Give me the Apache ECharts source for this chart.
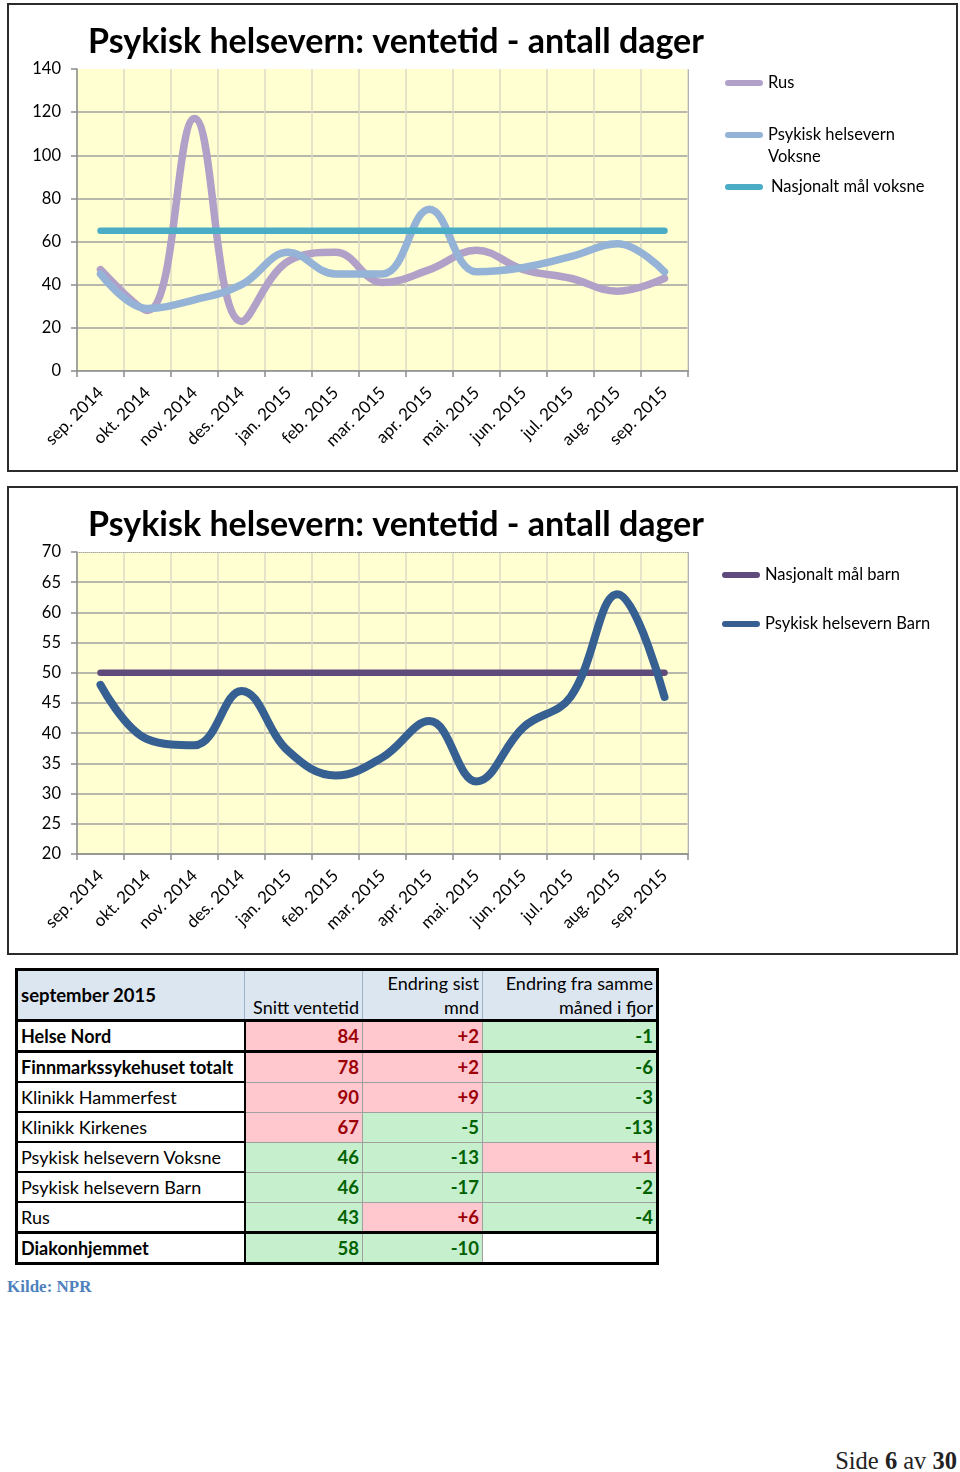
<!DOCTYPE html>
<html><head><meta charset="utf-8">
<script src="https://cdn.jsdelivr.net/npm/echarts@6/dist/echarts.min.js"></script>
<style>
body{margin:0;width:960px;height:1472px;position:relative;background:#fff;font-family:Lato,'Open Sans',sans-serif;overflow:hidden;}
.box{position:absolute;left:7px;width:947px;height:465px;border:2px solid #2b2b2b;}
.chart{position:absolute;left:0;width:960px;height:480px;}
table{position:absolute;left:15px;top:968px;border-collapse:collapse;border:3px solid #000;font-family:Lato,sans-serif;font-size:18px;color:#000;table-layout:fixed;}
td,th{padding:0 3px;border:1px solid #a0a0a0;height:28px;white-space:nowrap;overflow:hidden;}
th{background:#dce6f1;font-weight:normal;height:48px;text-align:right;vertical-align:bottom;line-height:24px;border:1px solid #9fb3c8;}
th.c1{text-align:left;vertical-align:middle;font-weight:bold;font-size:18.5px;}
tr.hdr th{border-bottom:3px solid #000;}
td.c1{text-align:left;border-right:2px solid #000;border-bottom:2px solid #000;padding-left:3px;font-size:18px;}
td.num{text-align:right;font-weight:bold;font-size:18.5px;}
td.red{background:#ffc7ce;color:#9c0006;}
td.green{background:#c6efce;color:#006100;}
td.blank{background:#fff;}
tr.thick td{border-bottom:3px solid #000;}
tr.bold td.c1{font-weight:bold;}
#kilde{position:absolute;left:7px;top:1277px;font-family:'Liberation Serif',serif;font-weight:bold;font-size:17px;color:#4f81bd;}
#side{position:absolute;right:3px;top:1447px;font-family:'Liberation Serif',serif;font-size:24.5px;color:#222;}
</style></head>
<body>
<div class="box" style="top:3px"></div>
<div class="box" style="top:486px"></div>
<div id="c1" class="chart" style="top:0"></div>
<div id="c2" class="chart" style="top:483px"></div>
<table id="tbl"></table>
<div id="kilde">Kilde: NPR</div>
<div id="side">Side <b>6</b> av <b>30</b></div>
<script>
// ---- data ----
const months = ['sep. 2014','okt. 2014','nov. 2014','des. 2014','jan. 2015','feb. 2015','mar. 2015','apr. 2015','mai. 2015','jun. 2015','jul. 2015','aug. 2015','sep. 2015'];
const rus = [47,28,117,23,51,55,41,47,56,47,43,37,43];
const voksne = [45,29,33,40,55,45,45,75,46,48,53,59,46];
const maalVoksne = [65,65,65,65,65,65,65,65,65,65,65,65,65];
const barn = [48,39,38,47,37,33,36,42,32,41,46,63,46];
const maalBarn = [50,50,50,50,50,50,50,50,50,50,50,50,50];
const titleText = 'Psykisk helsevern: ventetid - antall dager';

const tableTitle = 'september 2015';
const tableHeaders = ['Snitt ventetid','Endring sist<br>mnd','Endring fra samme<br>måned i fjor'];
const tableRows = ['Helse Nord','Finnmarkssykehuset totalt','Klinikk Hammerfest','Klinikk Kirkenes','Psykisk helsevern Voksne','Psykisk helsevern Barn','Rus','Diakonhjemmet'];
const snitt = [84,78,90,67,46,46,43,58];
const endringMnd = ['+2','+2','+9','-5','-13','-17','+6','-10'];
const endringFjor = ['-1','-6','-3','-13','+1','-2','-4',''];
const boldRows = ['Helse Nord','Finnmarkssykehuset totalt','Diakonhjemmet'];
const thickRows = ['Helse Nord','Rus'];

const FONT = 'Lato';
function baseOption(yMin, yMax, yInt){
  return {
    animation:false,
    title:{text:titleText,left:88,top:25,padding:0,textStyle:{fontFamily:FONT,fontWeight:'bold',fontSize:34,color:'#000'}},
    grid:{left:77,top:69,width:611,height:302,show:true,backgroundColor:'#ffffd2',borderWidth:0},
    xAxis:[{type:'category',data:months,boundaryGap:true,
      axisLine:{show:true,lineStyle:{color:'#8c8c8c',width:1.5}},
      axisTick:{show:true,interval:0,length:6,lineStyle:{color:'#8c8c8c',width:1.5}},
      axisLabel:{interval:0,rotate:45,margin:19,fontFamily:FONT,fontSize:17,color:'#000'},
      splitLine:{show:true,interval:0,lineStyle:{color:'#dcdac4',width:1.5}}},
      {type:'category',data:months,position:'top',axisLine:{show:true,lineStyle:{color:'#a8a8a8',type:'dotted',width:1}},axisTick:{show:false},axisLabel:{show:false},splitLine:{show:false}}],
    yAxis:[{type:'value',min:yMin,max:yMax,interval:yInt,
      axisLine:{show:true,lineStyle:{color:'#8c8c8c',width:1.5}},
      axisTick:{show:true,length:6,lineStyle:{color:'#8c8c8c',width:1.5}},
      axisLabel:{margin:16,fontFamily:FONT,fontSize:16.5,color:'#000'},
      splitLine:{show:true,showMaxLine:false,lineStyle:{color:'#a0a0a0',width:1.6}}},
      {type:'value',min:yMin,max:yMax,interval:yInt,position:'right',axisLine:{show:true,lineStyle:{color:'#a8a8a8',type:'dotted',width:1}},axisTick:{show:false},axisLabel:{show:false},splitLine:{show:false}}],
  };
}
const capsule = 'path://M3,0 L35,0 A3,3 0 0 1 35,6 L3,6 A3,3 0 0 1 3,0 Z';
function legendAt(name,left,top,fs,extra){
  return Object.assign({data:[name],left:left,top:top,icon:capsule,itemWidth:38,itemHeight:6,itemGap:0,padding:0,
    textStyle:{fontFamily:FONT,fontSize:fs,color:'#000',lineHeight:22}},extra||{});
}
function lineSeries(name,data,color,w){
  return {name:name,type:'line',data:data,smooth:0.4,symbol:'none',xAxisIndex:0,yAxisIndex:0,
    lineStyle:{color:color,width:w,cap:'round',join:'round'},itemStyle:{color:color}};
}

const c1 = echarts.init(document.getElementById('c1'),null,{renderer:'canvas'});
const o1 = baseOption(0,140,20);
o1.legend = [
  legendAt('Rus',725,72,16.5),
  legendAt('Psykisk helsevern Voksne',725,102,16.5,{formatter:()=> '\u00a0\nPsykisk helsevern\nVoksne'}),
  legendAt('Nasjonalt mål voksne',725,176,16.5,{textStyle:{fontFamily:FONT,fontSize:16.5,color:'#000',lineHeight:22,padding:[0,0,0,3]}})
];
o1.series = [
  lineSeries('Rus',rus,'#b1a0c7',7.5),
  lineSeries('Psykisk helsevern Voksne',voksne,'#95b3d7',7.5),
  lineSeries('Nasjonalt mål voksne',maalVoksne,'#4bacc6',6.5)
];
c1.setOption(o1);

const c2 = echarts.init(document.getElementById('c2'),null,{renderer:'canvas'});
const o2 = baseOption(20,70,5);
o2.legend = [
  legendAt('Nasjonalt mål barn',722,81,16.5),
  legendAt('Psykisk helsevern Barn',722,130,16.5)
];
o2.series = [
  lineSeries('Nasjonalt mål barn',maalBarn,'#604a7b',6.5),
  lineSeries('Psykisk helsevern Barn',barn,'#376092',8)
];
c2.setOption(o2);

// ---- table ----
const widths=[228,118,120,175];
let html='<colgroup>'+widths.map(w=>'<col style="width:'+w+'px">').join('')+'</colgroup>';
html+='<tr class="hdr"><th class="c1">'+tableTitle+'</th>'+tableHeaders.map(h=>'<th>'+h+'</th>').join('')+'</tr>';
function cls(v,isSnitt){
  if(v===''||v===undefined) return 'blank';
  if(isSnitt) return v>65?'red':'green';
  return String(v).charAt(0)==='+'?'red':'green';
}
tableRows.forEach((r,i)=>{
  const trc=[boldRows.includes(r)?'bold':'',thickRows.includes(r)?'thick':''].join(' ');
  html+='<tr class="'+trc+'"><td class="c1">'+r+'</td>'+
    '<td class="num '+cls(snitt[i],true)+'">'+snitt[i]+'</td>'+
    '<td class="num '+cls(endringMnd[i])+'">'+endringMnd[i]+'</td>'+
    '<td class="num '+cls(endringFjor[i])+'">'+endringFjor[i]+'</td></tr>';
});
document.getElementById('tbl').innerHTML=html;
</script>
</body></html>
